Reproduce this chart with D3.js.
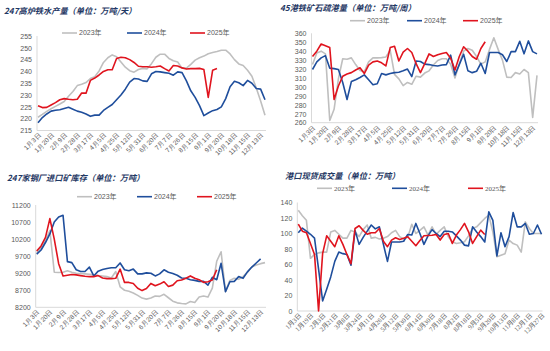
<!DOCTYPE html>
<html lang="zh">
<head>
<meta charset="UTF-8">
<title>铁矿石周度数据</title>
<script src="https://d3js.org/d3.v7.min.js"></script>
<style>
  body { margin: 0; background: #fff; }
  svg { display: block; font-family: "Liberation Sans", Arial, "Noto Sans CJK SC", sans-serif; }
  .title { font-family: "Noto Sans CJK SC", sans-serif; font-weight: 700; font-style: italic; fill: #1f3864; font-size: 8.2px; }
  .tick text { fill: #595959; }
  .domain { stroke: #d9d9d9; }
</style>
</head>
<body>
<svg id="chart" width="550" height="351"></svg>
<script>
// 横轴标签（每3个数据点一个标签）
const labelsWeekly = ["1月3日","1月20日","2月9日","2月28日","3月17日","4月5日","4月25日","5月12日","5月31日",
  "6月20日","7月7日","7月26日","8月15日","9月1日","9月20日","10月18日","11月15日","12月13日"];
const labelsDeal = ["1月3日","1月19日","2月3日","2月21日","3月8日","3月24日","4月11日","4月26日","5月12日","5月30日",
  "6月14日","6月30日","7月18日","8月2日","8月18日","9月5日","9月20日","10月13日","11月8日","12月1日","12月27日"];
const years = ["2023年", "2024年", "2025年"];

// 247高炉铁水产量
const hotMetal2023 = [220.6,221.8,223.1,224.2,225.2,226.2,227.3,229.5,231.5,234,234.6,235.3,237,237.8,240.2,243.8,245.8,247,246.2,244,
  241.8,240.3,239.7,240.8,241.3,241.1,243.3,246,247.3,247.3,245.5,244.5,244,241.4,241.4,243,244.8,245.8,246.5,247.5,
  248,248.4,249,249,247.4,245,243.2,242.5,240.5,238,233,227.5,221.5];
const hotMetal2024 = [218.3,220.5,222,223.2,223.6,223.8,224.3,224.8,224,223.2,222.7,222,221,221.5,221.5,223.5,224.8,226,228,230,
  232.5,235.5,237,236.8,236,235.8,239,240,239.8,239.5,239.2,238.4,239.8,239.5,236,231.8,229,225.5,221.3,222.4,
  223.4,223.9,225,228.5,233.5,235.8,235.2,234,236.2,235,232.8,232.5,228];
const hotMetal2025 = [225.5,224.7,224.8,225.8,226.8,228,228.5,228.2,228,228.2,230.9,230.8,236.2,237.2,238.5,240,240.7,240.7,245.5,246,
  245.8,245,243.8,242.2,242,242,241.8,242,242.3,241.2,240.2,242.5,242.3,241.5,241,241.2,241.2,241.3,240.8,229,
  240.5,241.2];

// 45港铁矿石疏港量
const portOut2023 = [325,338,340,337,262.5,275,309,331.5,331,332.5,325,318.5,317,328,332.5,332.5,332.8,333.5,341,314,
  309,301.5,305,303,312,311,315.5,318,324.5,329.5,331.5,331.5,325.5,310,326,340,343,341,334,325.5,
  328,342,355,342,330,311,310.5,316,314.5,319.5,316,266,313];
const portOut2024 = [319.5,328,332.5,335,321,320.5,319.5,305,286,306,308,310.5,313.5,308,302.5,303.5,315,313.5,315,316,
  316.5,318,320,311.5,329,328.5,325.5,325,324,323.5,324.5,325,335.5,313.5,325,336.5,318,316,317.5,326.5,
  315,338.5,338.5,338.5,336,328.5,339.5,339.5,351,337,351.5,339.5,337];
const portOut2025 = [334,340,348,346,344,286,301,312,314.5,316,319,321.5,315,324.5,328,329,327,323.5,344,345.5,
  329,339,343,338.5,326,316,326,337,334,336,337.5,338.5,332,319,334,345,340,334,331,343,350.5];

// 247家钢厂进口矿库存
const millStock2023 = [9800,9950,10150,10450,9230,9220,9230,9270,9230,9200,9190,9180,9170,9150,9130,9120,9100,9060,9250,8800,
  8700,8670,8620,8550,8470,8440,8470,8530,8520,8580,8480,8380,8330,8310,8300,8370,8340,8500,8530,8500,
  8760,9550,9830,8660,8990,9050,9020,9100,9230,9380,9440,9480,9510];
const millStock2024 = [9760,9880,10100,10350,10700,10850,10900,9540,9510,9300,9250,9250,9380,9120,9260,9310,9340,9360,9360,9500,
  9300,9270,9320,9180,9180,9210,9200,9120,9180,9300,9230,9190,9140,9060,9050,9010,8990,8960,8960,8850,
  9080,9010,9490,8660,8950,8960,9100,9050,9240,9380,9500,9620];
const millStock2025 = [9850,10000,10250,10800,10200,9480,9120,9140,9160,9150,9130,9110,9100,9100,9130,9060,9040,9040,9050,9320,
  8930,8930,8900,8760,8690,8750,8900,8830,8880,8950,8810,8850,8980,9000,9050,9120,9050,9010,8930,8950,
  9000,9300];

// 港口现货成交量
const spotDeal2023 = [130,123,117,68,73,75,76,76,102,104,99,94,94,104,102,96,105,111,94,95,
  93,94,96,101,104,96,93,95,112,100,104,108.6,98,108.6,98.8,104,108.6,95.8,89.3,87.2,
  88,89.3,97,106.5,108.6,114,119.4,123.7,102,70,72,74,91.5,87,85,76,115,106.5,100,100,
  100];
const spotDeal2024 = [101,107,103,99,94,54,13,28,44,64,76,74,73,59,104,86,95,103,111,106,
  108.6,86,64,89,89,89,90,98.8,98,113,100,86,97,105,100,96,103,103,102,97,
  91.5,85,84,108.6,102,96,89,128,117,71,101,83,96,127,108.6,108.6,113,99,100,111,
  99];
const spotDeal2025 = [112,103,101,87,73,0,74,97,90,83,97,86,73,61,106.5,110,104,99,101,101,
  106.5,90,83,91.5,94.5,92.3,94,95.8,90,84.2,91,97,97.5,97.8,98.8,91.5,98.8,100,87.2,98,
  105,113,102.2,87.2,96,104.3,98.8];

const colors = ["#bfbfbf", "#1f4e9c", "#e0141e"];
const svg = d3.select("#chart");

const panels = [
  { title: "247高炉铁水产量（单位：万吨/天）", tx: 4, ty: 14,
    series: [hotMetal2023, hotMetal2024, hotMetal2025], count: 53, labels: labelsWeekly, step: 3,
    xr: [38, 265], yd: [215, 255], yr: [130.5, 36], yt: d3.range(215, 256, 5),
    ly: 33, lx: [62, 127, 190], serif: false },
  { title: "45港铁矿石疏港量（单位：万吨/周）", tx: 280, ty: 11,
    series: [portOut2023, portOut2024, portOut2025], count: 53, labels: labelsWeekly, step: 3,
    xr: [312.5, 537], yd: [260, 360], yr: [122.7, 33.3], yt: d3.range(260, 361, 10),
    ly: 20.7, lx: [350, 407, 463], serif: false },
  { title: "247家钢厂进口矿库存（单位：万吨）", tx: 7, ty: 181,
    series: [millStock2023, millStock2024, millStock2025], count: 53, labels: labelsWeekly, step: 3,
    xr: [36.7, 265], yd: [8200, 11200], yr: [307.3, 205], yt: d3.range(8200, 11201, 500),
    ly: 196.7, lx: [77, 137, 197], serif: false },
  { title: "港口现货成交量（单位：万吨）", tx: 285, ty: 179,
    series: [spotDeal2023, spotDeal2024, spotDeal2025], count: 61, labels: labelsDeal, step: 3,
    xr: [298.3, 541.5], yd: [0, 140], yr: [311, 202.5], yt: d3.range(0, 141, 20),
    ly: 188.3, lx: [317, 392, 468], serif: true }
];

panels.forEach(p => {
  const g = svg.append("g");
  const x = d3.scalePoint().domain(d3.range(p.count)).range(p.xr);
  const y = d3.scaleLinear().domain(p.yd).range(p.yr);
  const left = p.xr[0] - 1, right = p.xr[1] + 1;

  g.append("text").attr("class", "title").attr("x", p.tx).attr("y", p.ty).text(p.title);

  // 纵轴
  const ya = g.append("g").attr("transform", `translate(${left},0)`)
    .call(d3.axisLeft(y).tickValues(p.yt).tickSize(0).tickPadding(5).tickFormat(d3.format("d")));
  ya.selectAll("text").style("font-size", "7px");
  ya.select(".domain").attr("d", `M0,${p.yr[1]}V${p.yr[0]}`);

  // 横轴
  const ticks = d3.range(0, p.count, p.step).slice(0, p.labels.length);
  const xa = g.append("g").attr("transform", `translate(0,${p.yr[0]})`)
    .call(d3.axisBottom(x).tickValues(ticks).tickSize(0).tickFormat(i => p.labels[i / p.step]));
  xa.select(".domain").attr("d", `M${left},0H${right}`);
  xa.selectAll("text")
    .attr("x", 0).attr("y", 0).attr("dy", 0)
    .attr("text-anchor", "end")
    .attr("transform", "translate(3,5) rotate(-45)")
    .style("font-size", "6.5px")
    .style("font-family", p.serif ? "'Liberation Serif', 'Noto Sans CJK SC', serif" : null);

  // 折线
  const line = d3.line().x((d, i) => x(i)).y(d => y(d));
  p.series.forEach((s, k) => {
    g.append("path").datum(s)
      .attr("fill", "none")
      .attr("stroke", colors[k])
      .attr("stroke-width", 1.6)
      .attr("stroke-linejoin", "round")
      .attr("d", line);
  });

  // 图例
  years.forEach((yr, k) => {
    g.append("line").attr("x1", p.lx[k]).attr("x2", p.lx[k] + 15)
      .attr("y1", p.ly).attr("y2", p.ly)
      .attr("stroke", colors[k]).attr("stroke-width", 1.6);
    g.append("text").attr("x", p.lx[k] + 17).attr("y", p.ly).attr("dy", "0.35em")
      .style("font-size", "7px").style("fill", "#595959")
      .style("font-family", p.serif ? "'Liberation Serif', 'Noto Sans CJK SC', serif" : null)
      .text(yr);
  });
});
</script>
</body>
</html>
